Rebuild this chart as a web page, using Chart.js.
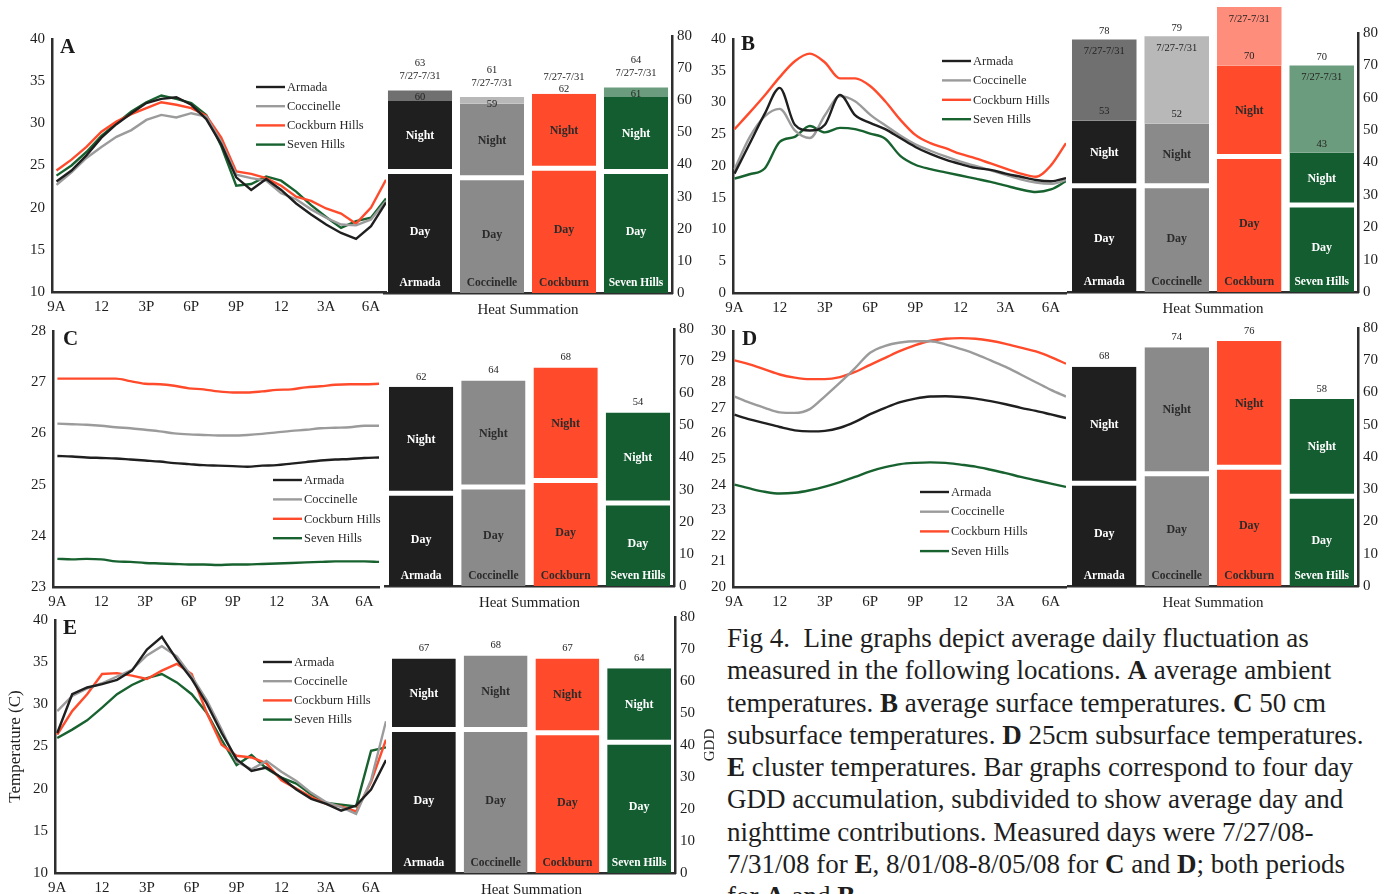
<!DOCTYPE html>
<html>
<head>
<meta charset="utf-8">
<script src="https://cdn.jsdelivr.net/npm/chart.js@4.4.1/dist/chart.umd.min.js"></script>
<style>
  html, body { margin: 0; padding: 0; background: #fff; }
  body { width: 1390px; height: 894px; position: relative; overflow: hidden; font-family: "Liberation Serif", "Times New Roman", serif; }
  canvas { position: absolute; }
  #caption { position: absolute; left: 727px; top: 622px; font-size: 27px; line-height: 32.3px; color: #1e1e1e; white-space: nowrap; }
</style>
</head>
<body>
<div id="caption">Fig 4.&nbsp; Line graphs depict average daily fluctuation as<br>measured in the following locations. <b>A</b> average ambient<br>temperatures. <b>B</b> average surface temperatures. <b>C</b> 50 cm<br>subsurface temperatures. <b>D</b> 25cm subsurface temperatures.<br><b>E</b> cluster temperatures. Bar graphs correspond to four day<br>GDD accumulation, subdivided to show average day and<br>nighttime contributions. Measured days were 7/27/08-<br>7/31/08 for <b>E</b>, 8/01/08-8/05/08 for <b>C</b> and <b>D</b>; both periods<br>for <b>A</b> and <b>B</b>.</div>
<script>
// hours after 9 AM, one reading per hour
const hours = [0, 1, 2, 3, 4, 5, 6, 7, 8, 9, 10, 11, 12, 13, 14, 15, 16, 17, 18, 19, 20, 21, 22];
const hourTicks = ['9A', '12', '3P', '6P', '9P', '12', '3A', '6A'];
const sites = ['Armada', 'Coccinelle', 'Cockburn Hills', 'Seven Hills'];
const barSites = ['Armada', 'Coccinelle', 'Cockburn', 'Seven Hills'];
const periodLabel = '7/27-7/31';

// A - ambient
const ambArmada = [23.1, 24.4, 26.2, 28.3, 29.9, 31.2, 32.4, 32.9, 33.1, 32.2, 30.5, 27.5, 23.6, 22.1, 23.4, 22.1, 20.5, 19.2, 18.0, 17.0, 16.3, 17.8, 20.6];
const ambCoccinelle = [22.7, 24.2, 25.9, 27.2, 28.4, 29.2, 30.4, 31.0, 30.7, 31.2, 30.8, 27.8, 23.9, 23.5, 23.2, 21.7, 21.0, 19.8, 18.8, 18.0, 17.9, 18.6, 20.8];
const ambCockburn = [24.4, 25.7, 27.2, 29.0, 30.2, 31.1, 31.8, 32.5, 32.2, 31.8, 30.9, 28.3, 24.3, 24.0, 23.5, 22.6, 21.3, 20.8, 19.9, 19.3, 18.1, 20.0, 23.3];
const ambSeven = [23.8, 25.0, 26.6, 28.5, 30.0, 31.4, 32.5, 33.3, 32.9, 32.4, 31.0, 27.3, 22.6, 22.8, 23.7, 23.2, 21.9, 20.3, 18.9, 17.6, 18.4, 18.8, 21.1];

// B - surface
const surfArmada = [18.8, 23.5, 28.2, 32.3, 26.5, 25.6, 26.5, 31.2, 28.0, 26.8, 25.8, 24.4, 23.0, 21.9, 21.0, 20.3, 19.7, 19.4, 18.8, 18.3, 17.8, 17.6, 18.1];
const surfCoccinelle = [19.5, 24.5, 27.8, 29.0, 25.6, 24.4, 28.0, 31.0, 30.2, 28.1, 26.4, 24.8, 23.4, 22.4, 21.5, 20.7, 20.0, 19.3, 18.6, 17.9, 17.4, 17.2, 17.8];
const surfCockburn = [25.8, 28.4, 31.1, 34.0, 36.5, 37.7, 36.3, 33.8, 33.8, 32.6, 30.2, 27.3, 24.9, 23.6, 22.8, 21.9, 21.2, 20.4, 19.6, 18.8, 18.3, 20.1, 23.6];
const surfSeven = [18.0, 18.7, 19.6, 23.8, 24.6, 26.3, 25.3, 26.0, 25.8, 25.1, 24.3, 21.6, 20.2, 19.5, 19.0, 18.5, 18.0, 17.5, 16.9, 16.3, 15.9, 16.3, 17.6];

// C - 50 cm subsurface
const sub50Armada = [25.56, 25.55, 25.53, 25.52, 25.51, 25.49, 25.47, 25.45, 25.42, 25.4, 25.38, 25.37, 25.36, 25.35, 25.37, 25.38, 25.41, 25.44, 25.47, 25.49, 25.5, 25.52, 25.53];
const sub50Coccinelle = [26.19, 26.18, 26.17, 26.15, 26.12, 26.1, 26.07, 26.04, 26.0, 25.98, 25.97, 25.96, 25.96, 25.97, 25.99, 26.02, 26.05, 26.07, 26.1, 26.11, 26.12, 26.15, 26.15];
const sub50Cockburn = [27.07, 27.07, 27.07, 27.07, 27.07, 27.02, 26.97, 26.96, 26.93, 26.88, 26.86, 26.82, 26.8, 26.8, 26.82, 26.85, 26.86, 26.9, 26.92, 26.95, 26.96, 26.96, 26.97];
const sub50Seven = [23.55, 23.54, 23.55, 23.54, 23.5, 23.49, 23.47, 23.46, 23.45, 23.44, 23.44, 23.43, 23.44, 23.44, 23.45, 23.46, 23.47, 23.48, 23.49, 23.5, 23.5, 23.5, 23.49];

// D - 25 cm subsurface
const sub25Armada = [26.73, 26.55, 26.4, 26.25, 26.12, 26.08, 26.1, 26.22, 26.45, 26.75, 27.0, 27.22, 27.36, 27.44, 27.45, 27.42, 27.36, 27.26, 27.14, 27.0, 26.88, 26.74, 26.6];
const sub25Coccinelle = [27.44, 27.2, 27.0, 26.82, 26.8, 26.95, 27.45, 27.98, 28.55, 29.15, 29.42, 29.55, 29.6, 29.6, 29.48, 29.3, 29.1, 28.85, 28.6, 28.3, 28.0, 27.7, 27.44];
const sub25Cockburn = [28.85, 28.7, 28.5, 28.3, 28.18, 28.12, 28.12, 28.2, 28.4, 28.68, 28.95, 29.22, 29.45, 29.62, 29.7, 29.72, 29.7, 29.62, 29.5, 29.35, 29.2, 28.98, 28.72];
const sub25Seven = [24.0, 23.85, 23.72, 23.65, 23.68, 23.78, 23.92, 24.1, 24.3, 24.52, 24.68, 24.8, 24.85, 24.87, 24.85, 24.78, 24.7, 24.58, 24.45, 24.3, 24.17, 24.04, 23.91];

// E - cluster
const clusArmada = [26.6, 31.2, 32.0, 32.4, 32.9, 34.0, 36.5, 38.0, 35.3, 33.0, 30.1, 26.6, 23.5, 22.1, 22.5, 21.3, 19.9, 18.8, 18.2, 17.4, 18.0, 19.9, 23.4];
const clusCoccinelle = [29.2, 31.0, 31.9, 32.5, 33.3, 34.1, 35.8, 36.9, 35.7, 33.3, 30.5, 27.0, 23.2, 22.3, 23.3, 22.0, 20.9, 19.5, 18.4, 17.8, 17.0, 21.0, 28.0];
const clusCockburn = [26.4, 29.2, 31.2, 33.6, 33.7, 33.4, 33.0, 34.0, 34.8, 33.6, 29.0, 25.2, 23.9, 23.7, 23.0, 21.0, 20.0, 19.0, 18.2, 17.9, 17.3, 20.8, 25.8];
const clusSeven = [26.0, 27.0, 28.1, 29.6, 31.2, 32.3, 33.1, 33.6, 32.6, 31.2, 29.0, 25.8, 22.8, 24.0, 22.4, 21.3, 20.6, 19.3, 18.3, 18.1, 17.9, 24.5, 24.9];

// GDD heat summation: day part, night part, extra for the 7/27-7/31 period
const gddADay = [38, 36, 39, 38];
const gddANight = [22, 23, 23, 23];
const gddAExtra = [3, 2, 0, 3];
const gddBDay = [33, 33, 42, 27];
const gddBNight = [20, 19, 28, 16];
const gddBExtra = [25, 27, 18, 27];
const gddCDay = [29, 31, 33, 26];
const gddCNight = [33, 33, 35, 28];
const gddDDay = [32, 35, 37, 28];
const gddDNight = [36, 39, 39, 30];
const gddEDay = [45, 45, 44, 41];
const gddENight = [22, 23, 23, 23];

const lineColors = ['#1f1f1f', '#9b9b9b', '#ff4b2b', '#17622f'];
const barColors = ['#1f1f1f', '#8a8a8a', '#ff4b2b', '#135d30'];
const extraColors = ['#707070', '#b8b8b8', '#ff8d7c', '#6c9c7e'];
const barInk = ['#ffffff', '#2b2b2b', '#2b2b2b', '#ffffff'];

const SERIF = '"Liberation Serif", "Times New Roman", serif';
Chart.defaults.font.family = SERIF;
Chart.defaults.color = '#1e1e1e';
Chart.defaults.animation = false;

function makeCanvas(left, top, w, h) {
  const c = document.createElement('canvas');
  c.width = w; c.height = h;
  c.style.cssText = `left:${left}px;top:${top}px;width:${w}px;height:${h}px`;
  document.body.appendChild(c);
  return c.getContext('2d');
}

const axisBorder = { display: true, color: '#2e2e2e', width: 2.5 };

// panel letter (A..E)
const tagPlugin = (text, pos, off) => ({
  id: 'tag',
  afterDraw(chart) {
    const c = chart.ctx;
    c.save();
    c.font = `bold 21px ${SERIF}`;
    c.fillStyle = '#1a1a1a';
    c.textBaseline = 'middle';
    c.fillText(text, pos[0] - off.left, pos[1] - off.top);
    c.restore();
  }
});

// small legend drawn inside the plot
const legendPlugin = (pos, off) => ({
  id: 'inLegend',
  afterDatasetsDraw(chart) {
    const c = chart.ctx;
    c.save();
    c.font = `12.5px ${SERIF}`;
    c.textBaseline = 'middle';
    chart.data.datasets.forEach((ds, i) => {
      const x = pos[0] - off.left, y = pos[1] - off.top + i * pos[2];
      c.strokeStyle = ds.borderColor;
      c.lineWidth = 2.4;
      c.beginPath(); c.moveTo(x, y); c.lineTo(x + 29, y); c.stroke();
      c.fillStyle = '#2a2a2a';
      c.fillText(ds.label, x + 31, y + 0.5);
    });
    c.restore();
  }
});

// Day / Night / site / totals written on the bars
const barTextPlugin = (style) => ({
  id: 'barText',
  afterDatasetsDraw(chart) {
    const c = chart.ctx;
    const ds = chart.data.datasets;
    const dayBars = chart.getDatasetMeta(0).data;
    const nightBars = chart.getDatasetMeta(1).data;
    const extraBars = ds.length > 2 ? chart.getDatasetMeta(2).data : null;
    c.save();
    c.textAlign = 'center';
    c.textBaseline = 'middle';
    dayBars.forEach((d, i) => {
      const n = nightBars[i];
      c.fillStyle = barInk[i];
      c.font = `bold 12px ${SERIF}`;
      c.fillText('Day', d.x, (d.y + d.base) / 2);
      c.fillText('Night', n.x, (n.y + n.base) / 2);
      c.font = `bold 11.5px ${SERIF}`;
      c.fillText(barSites[i], d.x, d.base - 10);

      const main = ds[0].data[i] + ds[1].data[i];
      const extra = extraBars ? ds[2].data[i] : 0;
      c.fillStyle = '#222';
      c.font = `10.5px ${SERIF}`;
      if (style === 'A') {
        if (extra > 0) {
          const e = extraBars[i];
          c.fillText(main + extra, e.x, e.y - 27);
          c.fillText(periodLabel, e.x, e.y - 14);
          c.fillText(main, e.x, e.y + 7);
        } else {
          c.fillText(periodLabel, n.x, n.y - 17);
          c.fillText(main, n.x, n.y - 5);
        }
      } else if (style === 'B') {
        const e = extraBars[i];
        if (e.y > 20) c.fillText(main + extra, e.x, e.y - 8);
        c.fillText(periodLabel, e.x, e.y + 12);
        c.fillText(main, n.x, n.y - 9);
      } else {
        c.fillText(main, n.x, n.y - 10);
      }
    });
    c.restore();
  }
});

// rotated GDD title next to the right axis
const gddTitlePlugin = (pos, off) => ({
  id: 'gddTitle',
  afterDraw(chart) {
    const c = chart.ctx;
    c.save();
    c.translate(pos[0] - off.left, pos[1] - off.top);
    c.rotate(-Math.PI / 2);
    c.font = `15px ${SERIF}`;
    c.fillStyle = '#1e1e1e';
    c.textAlign = 'center';
    c.textBaseline = 'middle';
    c.fillText('GDD', 0, 0);
    c.restore();
  }
});

function lineChart(area, yRange, series, opts) {
  const yW = 52, padTop = 12, padRight = 6, xH = 30;
  const off = { left: area.l - yW, top: area.t - padTop };
  const w = area.r + padRight - off.left, h = area.b + xH - off.top;
  const ctx = makeCanvas(off.left, off.top, w, h);
  const plugins = [tagPlugin(opts.tag, opts.tagPos, off), legendPlugin(opts.legend, off)];
  return new Chart(ctx, {
    type: 'line',
    data: {
      labels: hours,
      datasets: series.map((s, i) => ({
        label: sites[i],
        data: s,
        borderColor: lineColors[i],
        borderWidth: 2.4,
        pointRadius: 0,
        tension: opts.smooth ? 0.4 : 0,
        cubicInterpolationMode: opts.smooth ? 'monotone' : 'default'
      }))
    },
    options: {
      responsive: false,
      animation: false,
      layout: { padding: { top: padTop, right: padRight, left: 0, bottom: 0 } },
      plugins: { legend: { display: false }, tooltip: { enabled: false } },
      scales: {
        x: {
          type: 'linear', min: opts.xMin, max: 22,
          afterFit: s => { s.height = xH; },
          grid: { display: false, drawTicks: false },
          border: axisBorder,
          ticks: {
            stepSize: 3, includeBounds: false, autoSkip: false, maxRotation: 0,
            padding: 6, font: { size: 15 },
            callback: v => hourTicks[v / 3] ?? ''
          }
        },
        y: {
          min: yRange[0], max: yRange[1],
          afterFit: s => { s.width = yW; },
          grid: { display: false, drawTicks: false },
          border: axisBorder,
          ticks: { stepSize: yRange[2], padding: 7, font: { size: 15 } },
          title: { display: !!opts.yTitle, text: opts.yTitle || '', font: { size: 17 }, padding: 2 }
        }
      }
    },
    plugins
  });
}

function barChart(area, day, night, extra, opts) {
  const yW = 42, padTop = 32, padLeft = 2, xH = 30;
  const off = { left: area.l - padLeft, top: area.t - padTop };
  const w = area.r + yW - off.left, h = area.b + xH - off.top;
  const ctx = makeCanvas(off.left, off.top, w, h);
  const common = { barPercentage: 0.89, categoryPercentage: 1, borderColor: '#ffffff' };
  const datasets = [
    { ...common, label: 'Day', data: day, backgroundColor: barColors, borderWidth: { top: 3 }, borderSkipped: 'start' },
    { ...common, label: 'Night', data: night, backgroundColor: barColors, borderWidth: { bottom: 2 }, borderSkipped: false }
  ];
  if (extra) datasets.push({ ...common, label: periodLabel, data: extra, backgroundColor: extraColors, borderWidth: 0, clip: false });
  const plugins = [barTextPlugin(opts.style)];
  if (opts.gdd) plugins.push(gddTitlePlugin(opts.gdd, off));
  return new Chart(ctx, {
    type: 'bar',
    data: { labels: barSites, datasets },
    options: {
      responsive: false,
      animation: false,
      layout: { padding: { top: padTop, left: padLeft, right: 0, bottom: 0 } },
      plugins: { legend: { display: false }, tooltip: { enabled: false } },
      scales: {
        x: {
          stacked: true,
          afterFit: s => { s.height = xH; },
          grid: { display: false, drawTicks: false },
          border: axisBorder,
          ticks: { display: false },
          title: { display: true, text: 'Heat Summation', font: { size: 15 }, padding: { top: 2, bottom: 4 } }
        },
        y: {
          stacked: true, position: 'right', min: 0, max: 80,
          afterFit: s => { s.width = yW; },
          grid: { display: false, drawTicks: false },
          border: axisBorder,
          ticks: { stepSize: 10, padding: 5, font: { size: 15 } }
        }
      }
    },
    plugins
  });
}

// A
lineChart({ l: 52, t: 35, r: 386, b: 292 }, [10, 40, 5],
  [ambArmada, ambCoccinelle, ambCockburn, ambSeven],
  { xMin: -0.3, tag: 'A', tagPos: [60, 48], legend: [256, 87, 19.2] });
barChart({ l: 384, t: 36, r: 672, b: 293 }, gddADay, gddANight, gddAExtra, { style: 'A' });

// B
lineChart({ l: 733, t: 35, r: 1066, b: 293 }, [0, 40, 5],
  [surfArmada, surfCoccinelle, surfCockburn, surfSeven],
  { xMin: -0.1, smooth: true, tag: 'B', tagPos: [741, 45], legend: [942, 61, 19.4] });
barChart({ l: 1068, t: 33, r: 1358, b: 292 }, gddBDay, gddBNight, gddBExtra, { style: 'B' });

// C
lineChart({ l: 53, t: 327, r: 379, b: 587 }, [23, 28, 1],
  [sub50Armada, sub50Coccinelle, sub50Cockburn, sub50Seven],
  { xMin: -0.3, smooth: true, tag: 'C', tagPos: [63, 340], legend: [273, 480, 19.4] });
barChart({ l: 385, t: 329, r: 674, b: 586 }, gddCDay, gddCNight, null, { style: 'plain' });

// D
lineChart({ l: 733, t: 327, r: 1066, b: 587 }, [20, 30, 1],
  [sub25Armada, sub25Coccinelle, sub25Cockburn, sub25Seven],
  { xMin: -0.1, smooth: true, tag: 'D', tagPos: [742, 340], legend: [920, 492, 19.7] });
barChart({ l: 1068, t: 328, r: 1358, b: 586 }, gddDDay, gddDNight, null, { style: 'plain' });

// E
lineChart({ l: 55, t: 616, r: 386, b: 873 }, [10, 40, 5],
  [clusArmada, clusCoccinelle, clusCockburn, clusSeven],
  { xMin: -0.15, tag: 'E', tagPos: [63, 629], legend: [263, 662, 19.2], yTitle: 'Temperature (C)' });
barChart({ l: 388, t: 617, r: 675, b: 873 }, gddEDay, gddENight, null, { style: 'plain', gdd: [710, 745] });
</script>
</body>
</html>
